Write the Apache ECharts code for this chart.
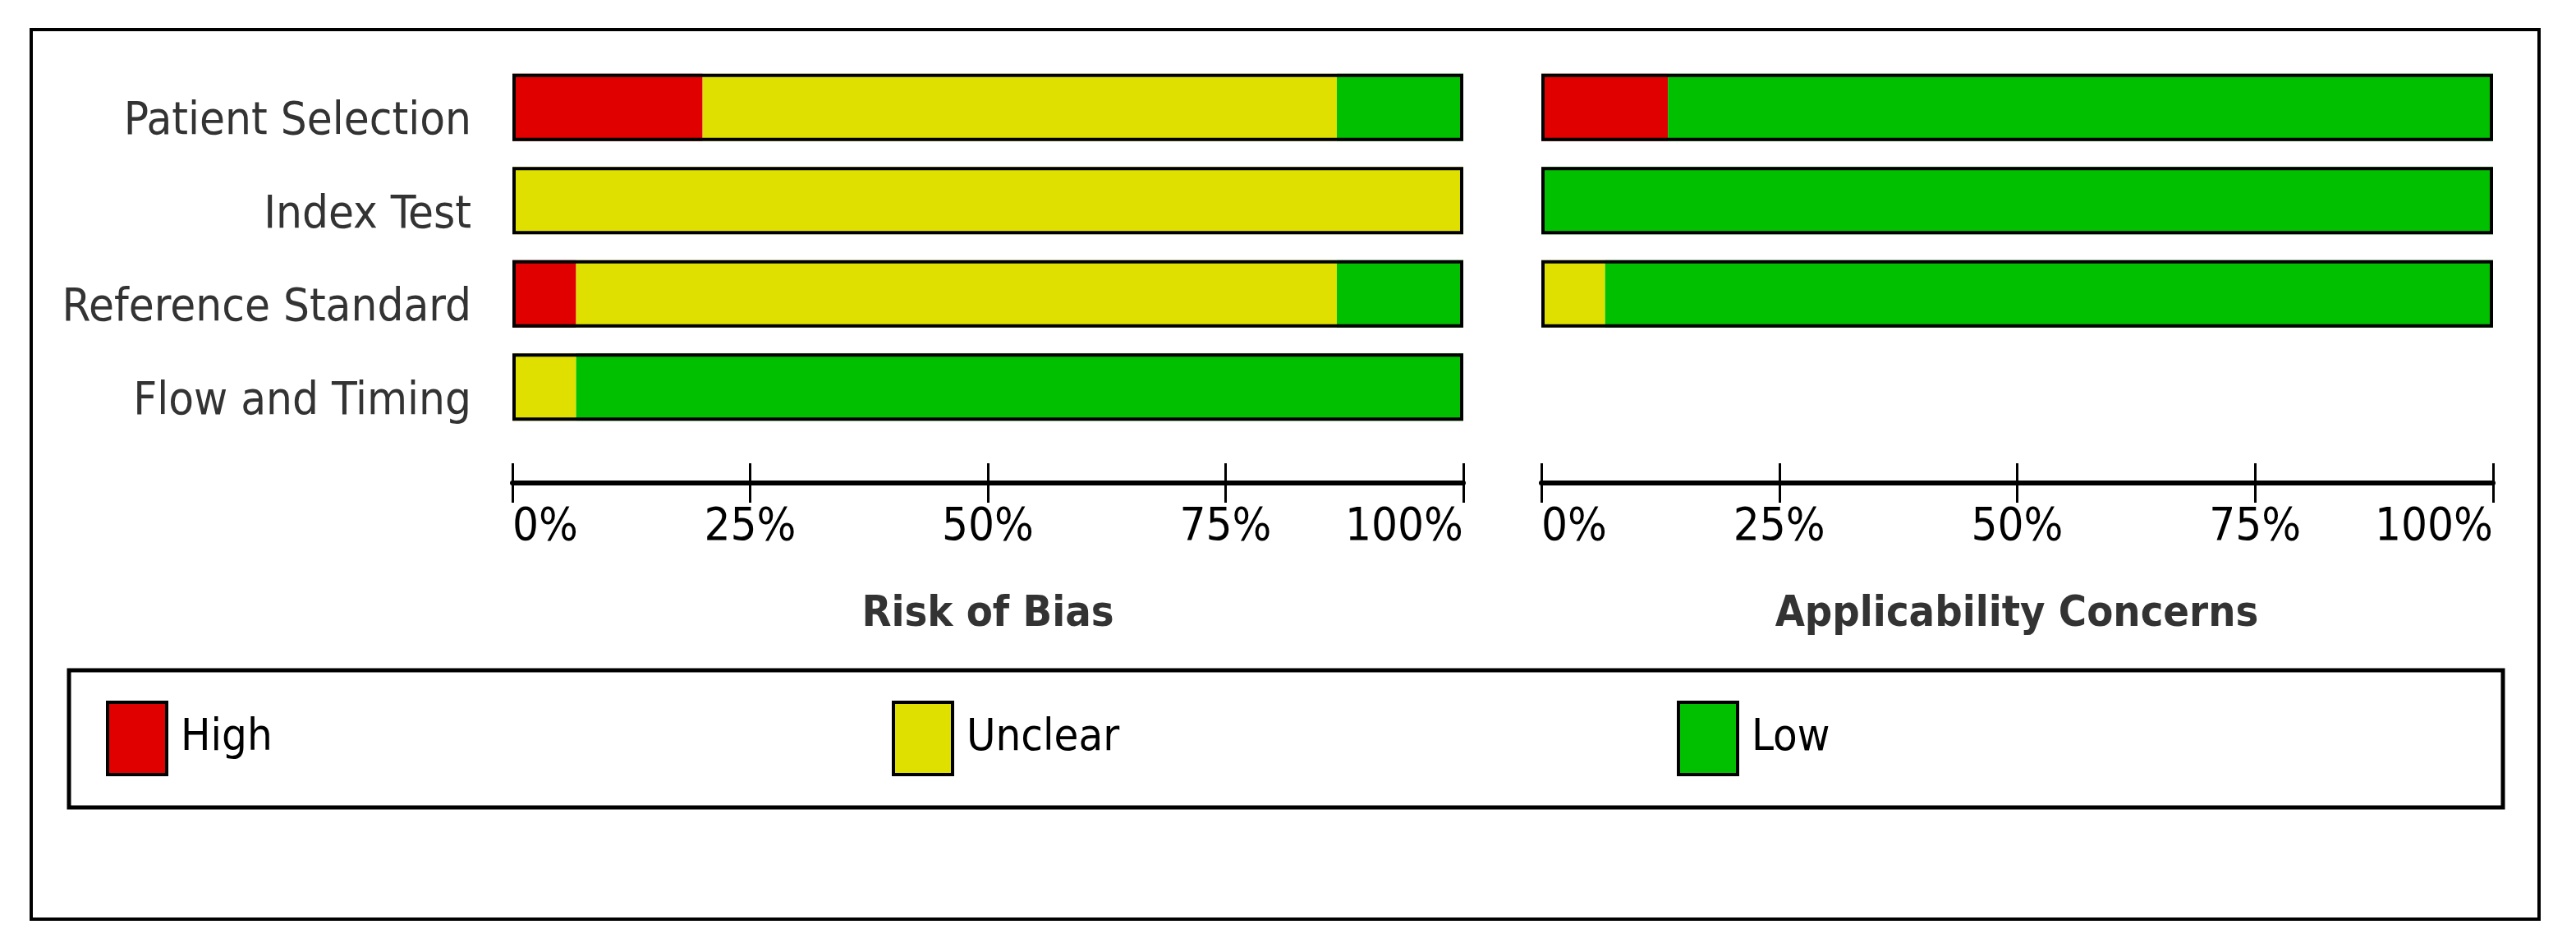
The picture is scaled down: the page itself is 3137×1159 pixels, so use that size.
<!DOCTYPE html>
<html>
<head>
<meta charset="utf-8">
<script src="https://cdn.jsdelivr.net/npm/echarts@6/dist/echarts.min.js"></script>
<style>
  html, body { margin: 0; padding: 0; background: #fff; }
  #chart { width: 3137px; height: 1159px; }
</style>
</head>
<body>
<div id="chart"></div>
<script>
// domains (top to bottom)
const domains = ['Patient Selection', 'Index Test', 'Reference Standard', 'Flow and Timing'];
const levels = ['High', 'Unclear', 'Low'];
const levelColors = ['#e00000', '#e0e000', '#00c000'];

// Risk of Bias, % of studies
const biasHigh = [20, null, 6.7, null];
const biasUnclear = [66.7, 100, 80, 6.7];
const biasLow = [13.3, null, 13.3, 93.3];
const biasTotal = [100, 100, 100, 100];

// Applicability Concerns, % of studies (no Flow and Timing row)
const applHigh = [13.3, null, null, null];
const applUnclear = [null, null, 6.7, null];
const applLow = [86.7, 100, 93.3, null];
const applTotal = [100, 100, 100, null];

const tickLabels = ['0%', '25%', '50%', '75%', '100%'];

const FONT = "'Liberation Sans Narrow', 'DejaVu Sans Condensed', 'Liberation Sans', sans-serif";
const BAR_W = 82;

const chart = echarts.init(document.getElementById('chart'));

function xAxes(gridIndex) {
    const base = {
        type: 'value', gridIndex: gridIndex, min: 0, max: 100, interval: 25,
        position: 'bottom', offset: 60, splitLine: { show: false }
    };
    return [
        Object.assign({}, base, {
            axisLine: { show: true, lineStyle: { color: '#000', width: 6 } },
            axisTick: { show: true, length: 24, lineStyle: { color: '#000', width: 3 } },
            axisLabel: {
                show: true, margin: 26, color: '#000', fontSize: 56, fontFamily: FONT,
                alignMinLabel: 'left', alignMaxLabel: 'right',
                formatter: v => tickLabels[v / 25]
            }
        }),
        Object.assign({}, base, {
            axisLine: { show: false },
            axisTick: { show: true, inside: true, length: 24, lineStyle: { color: '#000', width: 3 } },
            axisLabel: { show: false }
        })
    ];
}

function yAxis(gridIndex, showLabels) {
    return {
        type: 'category', gridIndex: gridIndex, data: domains, inverse: true,
        axisLine: { show: false }, axisTick: { show: false }, splitLine: { show: false },
        axisLabel: {
            show: showLabels, margin: 50, color: '#333', fontSize: 56, fontFamily: FONT,
            lineHeight: 36,
            // empty first line pushes the name down towards the bar's lower edge
            formatter: v => '\n' + v
        }
    };
}

function panelSeries(xIdx, yIdx, stack, values, total) {
    const out = values.map((vals, i) => ({
        name: levels[i], type: 'bar', stack: stack,
        xAxisIndex: xIdx, yAxisIndex: yIdx,
        barWidth: BAR_W, barGap: '-100%',
        itemStyle: { color: levelColors[i] },
        data: vals
    }));
    out.push({
        name: 'outline', type: 'bar', xAxisIndex: xIdx, yAxisIndex: yIdx,
        barWidth: BAR_W, barGap: '-100%', z: 5, silent: true,
        itemStyle: { color: 'rgba(0,0,0,0)', borderColor: '#000', borderWidth: 4 },
        data: total
    });
    return out;
}

function legendItem(name, left) {
    return {
        data: [name], left: left, top: 853, padding: 0,
        icon: 'rect', itemWidth: 72, itemHeight: 88,
        itemStyle: { borderColor: '#000', borderWidth: 4 },
        selectedMode: false,
        textStyle: { color: '#000', fontSize: 54, fontFamily: FONT, padding: [0, 0, 0, 12] }
    };
}

chart.setOption({
    animation: false,
    backgroundColor: '#fff',
    grid: [
        { left: 624, top: 74, width: 1158, height: 454, outerBoundsMode: 'none', containLabel: false },
        { left: 1877, top: 74, width: 1159, height: 454, outerBoundsMode: 'none', containLabel: false }
    ],
    xAxis: xAxes(0).concat(xAxes(1)),
    yAxis: [yAxis(0, true), yAxis(1, false)],
    legend: [
        legendItem('High', 129),
        legendItem('Unclear', 1086),
        legendItem('Low', 2042)
    ],
    series: panelSeries(0, 0, 'bias', [biasHigh, biasUnclear, biasLow], biasTotal)
        .concat(panelSeries(2, 1, 'appl', [applHigh, applUnclear, applLow], applTotal)),
    graphic: [
        {
            type: 'rect', silent: true,
            shape: { x: 38, y: 36, width: 3054, height: 1083 },
            style: { fill: 'none', stroke: '#000', lineWidth: 4 }
        },
        {
            type: 'rect', silent: true,
            shape: { x: 84, y: 816, width: 2964, height: 167 },
            style: { fill: 'none', stroke: '#000', lineWidth: 5 }
        },
        {
            type: 'text', x: 1203, y: 722, silent: true,
            style: {
                text: 'Risk of Bias', fill: '#333', align: 'center', verticalAlign: 'top',
                font: "bold 52px " + FONT
            }
        },
        {
            type: 'text', x: 2456, y: 722, silent: true,
            style: {
                text: 'Applicability Concerns', fill: '#333', align: 'center', verticalAlign: 'top',
                font: "bold 52px " + FONT
            }
        }
    ]
});
</script>
</body>
</html>
